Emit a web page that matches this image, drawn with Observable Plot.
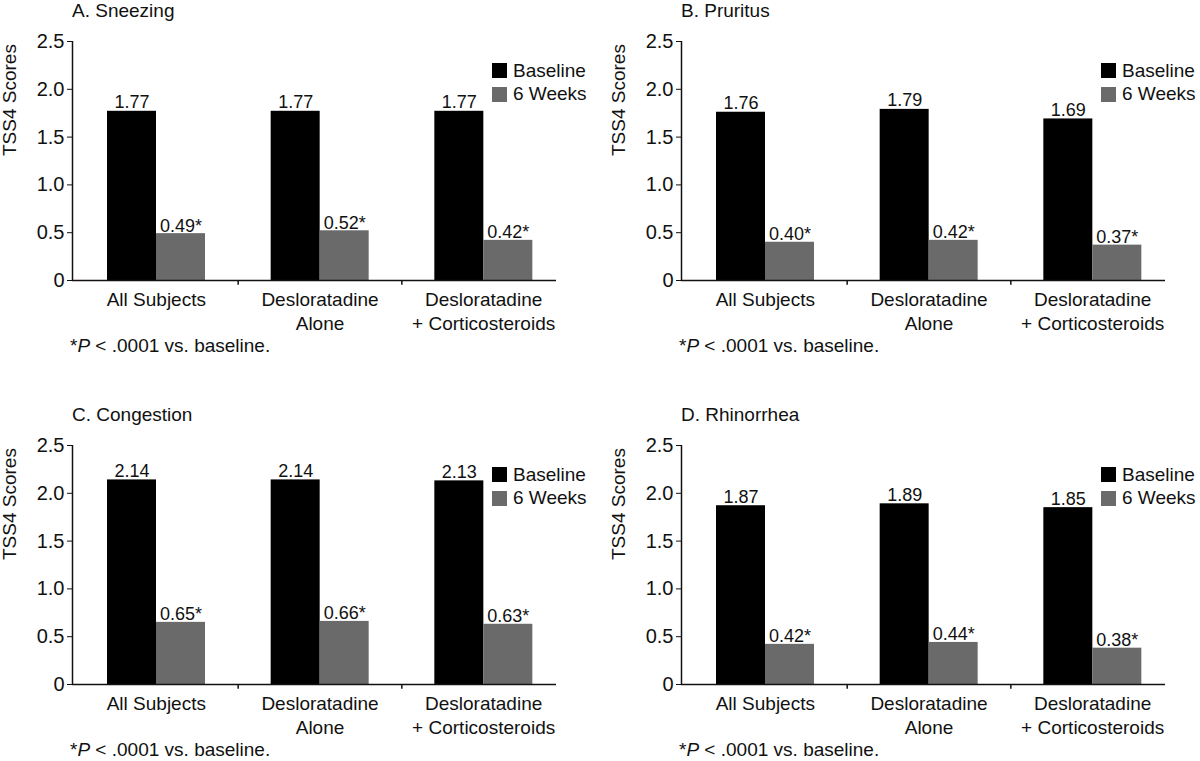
<!DOCTYPE html>
<html>
<head>
<meta charset="utf-8">
<script src="https://cdn.jsdelivr.net/npm/d3@7"></script>
<script src="https://cdn.jsdelivr.net/npm/@observablehq/plot@0.6"></script>
<style>
  html, body { margin: 0; padding: 0; background: #fff; }
  body { width: 1200px; height: 761px; overflow: hidden; position: relative;
         font-family: "Liberation Sans", Arial, sans-serif; color: #111; }
  .panel { position: absolute; width: 600px; height: 380px; }
  .panel svg { position: absolute; left: 0; top: 0; overflow: visible; }
  .title { position: absolute; left: 72px; top: 0px; font-size: 19px; line-height: 22px; white-space: nowrap; }
  .note { position: absolute; left: 70px; top: 335px; font-size: 19px; line-height: 21px; white-space: nowrap; }
  .legend { position: absolute; left: 492px; top: 59px; font-size: 19px; white-space: nowrap; }
  .legend .row { display: flex; align-items: center; height: 23.5px; }
  .legend .sw { width: 15px; height: 15px; margin-right: 6px; flex: none; }
</style>
</head>
<body>
<script>
// ---- Data ----
const categories = ["All Subjects", "Desloratadine\nAlone", "Desloratadine\n+ Corticosteroids"];
const seriesNames = ["Baseline", "6 Weeks"];
const seriesColors = ["#000000", "#6a6a6a"];
const panelTitles = ["A. Sneezing", "B. Pruritus", "C. Congestion", "D. Rhinorrhea"];
const yTicks = [0, 0.5, 1.0, 1.5, 2.0, 2.5];
const yLabel = "TSS4 Scores";

const sneezingBaseline = [1.77, 1.77, 1.77];
const sneezingWeek6 = [0.49, 0.52, 0.42];
const pruritusBaseline = [1.76, 1.79, 1.69];
const pruritusWeek6 = [0.40, 0.42, 0.37];
const congestionBaseline = [2.14, 2.14, 2.13];
const congestionWeek6 = [0.65, 0.66, 0.63];
const rhinorrheaBaseline = [1.87, 1.89, 1.85];
const rhinorrheaWeek6 = [0.42, 0.44, 0.38];

const panelBaseline = [sneezingBaseline, pruritusBaseline, congestionBaseline, rhinorrheaBaseline];
const panelWeek6 = [sneezingWeek6, pruritusWeek6, congestionWeek6, rhinorrheaWeek6];

// ---- Layout (styling only) ----
const panelOffsets = [[0, 0], [609, 0], [0, 404], [609, 404]];
const X0 = 74, X1 = 565;            // band range
const BW = (X1 - X0) / categories.length;
const OFF = 33, BARW = 49;          // bar placement inside each band
const FONT = "Liberation Sans, Arial, sans-serif";

function makePanel(idx) {
  const base = panelBaseline[idx], wk = panelWeek6[idx];
  const data = categories.flatMap((c, i) => [
    {cat: c, series: seriesNames[0], value: base[i]},
    {cat: c, series: seriesNames[1], value: wk[i]}
  ]);
  const baseData = data.filter(d => d.series === seriesNames[0]);
  const wkData = data.filter(d => d.series === seriesNames[1]);

  const svg = Plot.plot({
    width: 600,
    height: 340,
    marginTop: 41,
    marginBottom: 60,
    marginLeft: 72,
    marginRight: 44,
    style: {fontFamily: FONT, fontSize: "20px", color: "#111", background: "transparent", overflow: "visible"},
    x: {domain: categories, range: [X0, X1], padding: 0, round: false, axis: null},
    y: {domain: [0, 2.5], ticks: yTicks, tickFormat: d => d === 0 ? "0" : d.toFixed(1),
        label: null, tickSize: 5, tickPadding: 3},
    marks: [
      Plot.barY(baseData, {x: "cat", y: "value", fill: seriesColors[0],
        insetLeft: OFF, insetRight: BW - OFF - BARW}),
      Plot.barY(wkData, {x: "cat", y: "value", fill: seriesColors[1],
        insetLeft: OFF + BARW, insetRight: BW - OFF - 2 * BARW}),
      // axis lines
      Plot.ruleY([0], {stroke: "#111", strokeWidth: 1.5}),
      Plot.ruleX([categories[0]], {x: d => d, y1: 0, y2: 2.5, dx: -BW / 2 - (X0 - 72), stroke: "#111", strokeWidth: 1.5}),
      // small ticks between category groups
      Plot.ruleX(categories.slice(1), {x: d => d, y1: 0, y2: -0.05, dx: -BW / 2, stroke: "#111", strokeWidth: 1.5}),
      // value labels
      Plot.text(baseData, {x: "cat", y: "value", text: d => d.value.toFixed(2),
        dx: OFF + BARW / 2 - BW / 2, dy: -3, lineAnchor: "bottom", fontSize: 18, fill: "#111"}),
      Plot.text(wkData, {x: "cat", y: "value", text: d => d.value.toFixed(2) + "*",
        dx: OFF + 1.5 * BARW - BW / 2, dy: -2, lineAnchor: "bottom", fontSize: 18, fill: "#111"}),
      // category labels
      Plot.text(categories, {x: d => d, frameAnchor: "bottom", lineAnchor: "top", dy: 9,
        lineHeight: 1.24, fontSize: 19, fill: "#111"}),
      // y-axis title
      Plot.text([yLabel], {frameAnchor: "left", rotate: -90, dx: -63, dy: -5, fontSize: 19, fill: "#111"})
    ]
  });

  const div = document.createElement("div");
  div.className = "panel";
  div.style.left = panelOffsets[idx][0] + "px";
  div.style.top = panelOffsets[idx][1] + "px";
  div.appendChild(svg);

  const t = document.createElement("div");
  t.className = "title";
  t.textContent = panelTitles[idx];
  div.appendChild(t);

  const lg = document.createElement("div");
  lg.className = "legend";
  seriesNames.forEach((s, i) => {
    const row = document.createElement("div");
    row.className = "row";
    const sw = document.createElement("span");
    sw.className = "sw";
    sw.style.background = seriesColors[i];
    const tx = document.createElement("span");
    tx.textContent = s;
    row.appendChild(sw); row.appendChild(tx);
    lg.appendChild(row);
  });
  div.appendChild(lg);

  const note = document.createElement("div");
  note.className = "note";
  note.innerHTML = "*<i>P</i> &lt; .0001 vs. baseline.";
  div.appendChild(note);

  document.body.appendChild(div);
}

for (let i = 0; i < 4; i++) makePanel(i);
</script>
</body>
</html>
